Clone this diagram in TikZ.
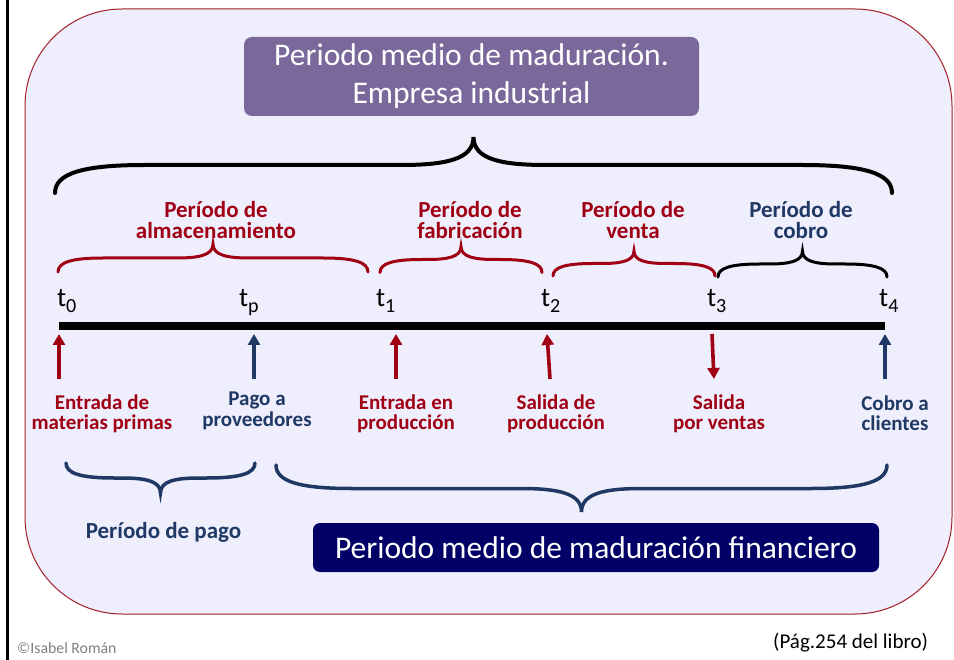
\documentclass[tikz,border=0pt]{standalone}
\usepackage{fontspec}
\setmainfont{Carlito}
\usetikzlibrary{arrows.meta}

\definecolor{ptred}{RGB}{160,0,20}
\definecolor{ptblue}{RGB}{31,56,100}
\definecolor{ptnavy}{RGB}{0,0,102}
\definecolor{ptpurple}{RGB}{122,104,154}
\definecolor{ptback}{RGB}{238,238,252}
\definecolor{ptframe}{RGB}{165,30,40}

\newcommand\tsub[1]{\raisebox{-6pt}{\fontsize{20}{20}\selectfont #1}}

\tikzset{
  per/.style={font=\bfseries\fontsize{23}{21}\selectfont, align=center, inner sep=0pt},
  hecho/.style={font=\bfseries\fontsize{21}{20.5}\selectfont, align=center, inner sep=0pt},
  hito/.style={font=\fontsize{27}{27}\selectfont, anchor=base west, inner sep=0pt},
  caja/.style={rounded corners=8pt, text=white, inner sep=0pt, font=\fontsize{31.5}{38}\selectfont, align=center},
  flecha/.style={line width=3.6pt, -{Triangle[width=12pt,length=11pt]}},
}

\begin{document}
\begin{tikzpicture}[x=1pt,y=-1pt]
    \useasboundingbox (0,0) rectangle (954,660);
    \draw[line width=3pt] (7,0) -- (7,660);
    \draw[fill=ptback, draw=ptframe, line width=1pt, rounded corners=97pt] (25,9) rectangle (952,614);

    \node[caja, fill=ptpurple, minimum width=455pt, minimum height=79pt] (titulo) at (471.5,76.5)
        {Periodo medio de maduración.\\Empresa industrial};

    % llaves: centro x / extremo y / semiancho / altura / color / grosor
    \foreach \bx/\by/\bw/\bh/\bc/\bl in {473.5/193/418.5/56/black/4pt, 213/272/155/28/ptred/3pt,
        461/272.5/81/26/ptred/3pt, 634/276/81/25/ptred/3pt, 802.5/277/84.5/26/black/3pt,
        160.5/463/94.5/-30/ptblue/3.5pt, 581.5/465/305.5/-47/ptblue/3.5pt} {
        \pgfmathsetmacro\ba{abs(\bh)}
        \begin{scope}[shift={(\bx,\by)}]
            \draw[\bc, line width=\bl, line cap=round]
                (-\bw,0) .. controls (-\bw,{-0.35*\bh}) and ({-\bw+0.5*\ba},{-0.5*\bh}) .. ({-\bw+1.6*\ba},{-0.5*\bh})
                -- ({-1.3*\ba},{-0.5*\bh}) .. controls ({-0.5*\ba},{-0.5*\bh}) and (0,{-0.6*\bh}) .. (0,-\bh)
                .. controls (0,{-0.6*\bh}) and ({0.5*\ba},{-0.5*\bh}) .. ({1.3*\ba},{-0.5*\bh})
                -- ({\bw-1.6*\ba},{-0.5*\bh}) .. controls ({\bw-0.5*\ba},{-0.5*\bh}) and (\bw,{-0.35*\bh}) .. (\bw,0);
        \end{scope}
    }

    \node[per, ptred] (alm) at (216,220) {Período de\\almacenamiento};
    \node[per, ptred] (fab) at (470,220) {Período de\\fabricación};
    \node[per, ptred] (ven) at (633,220) {Período de\\venta};
    \node[per, ptblue] (cob) at (801,220) {Período de\\cobro};

    \node[hito] (t0) at (57,307) {t\tsub{0}};
    \node[hito] (tp) at (239,307) {t\tsub{p}};
    \node[hito] (t1) at (376,307) {t\tsub{1}};
    \node[hito] (t2) at (541,307) {t\tsub{2}};
    \node[hito] (t3) at (707,307) {t\tsub{3}};
    \node[hito] (t4) at (879,307) {t\tsub{4}};

    \coordinate (inicio) at (59,326);
    \coordinate (fin) at (885,326);
    \draw[line width=8pt] (inicio) -- (fin);

    \foreach \n/\xa/\xb/\c in {0/59/59/ptred, p/254/254/ptblue, 1/396/396/ptred, 2/550/547/ptred, 4/885/885/ptblue} {
        \coordinate (pie\n) at (\xa,379);
        \coordinate (punta\n) at (\xb,334);
        \draw[flecha,\c] (pie\n) -- (punta\n);
    }
    \coordinate (pie3) at (712,334);
    \coordinate (punta3) at (714,379);
    \draw[flecha,ptred] (pie3) -- (punta3);

    \node[hecho, ptred] (mp) at (102,414) {Entrada de\\materias primas};
    \node[hecho, ptblue] (prov) at (257,411) {Pago a\\proveedores};
    \node[hecho, ptred] (ent) at (406,414) {Entrada en\\producción};
    \node[hecho, ptred] (sal) at (556,414) {Salida de\\producción};
    \node[hecho, ptred] (ventas) at (719,414) {Salida\\por ventas};
    \node[hecho, ptblue] (cli) at (895,413) {Cobro a\\clientes};

    \node[per, ptblue] (pago) at (163.5,532.5) {Período de pago};
    \node[caja, rounded corners=7pt, fill=ptnavy, minimum width=566pt, minimum height=49pt] (financiero) at (596,547.5)
        {Periodo medio de maduración financiero};

    \node[font=\fontsize{15.8}{16}\selectfont, text=black!50, anchor=base west, inner sep=0pt] (autora) at (17,653) {©Isabel Román};
    \node[font=\fontsize{21}{21}\selectfont, anchor=base west, inner sep=0pt] (libro) at (773,648) {(Pág.254 del libro)};
\end{tikzpicture}
\end{document}
